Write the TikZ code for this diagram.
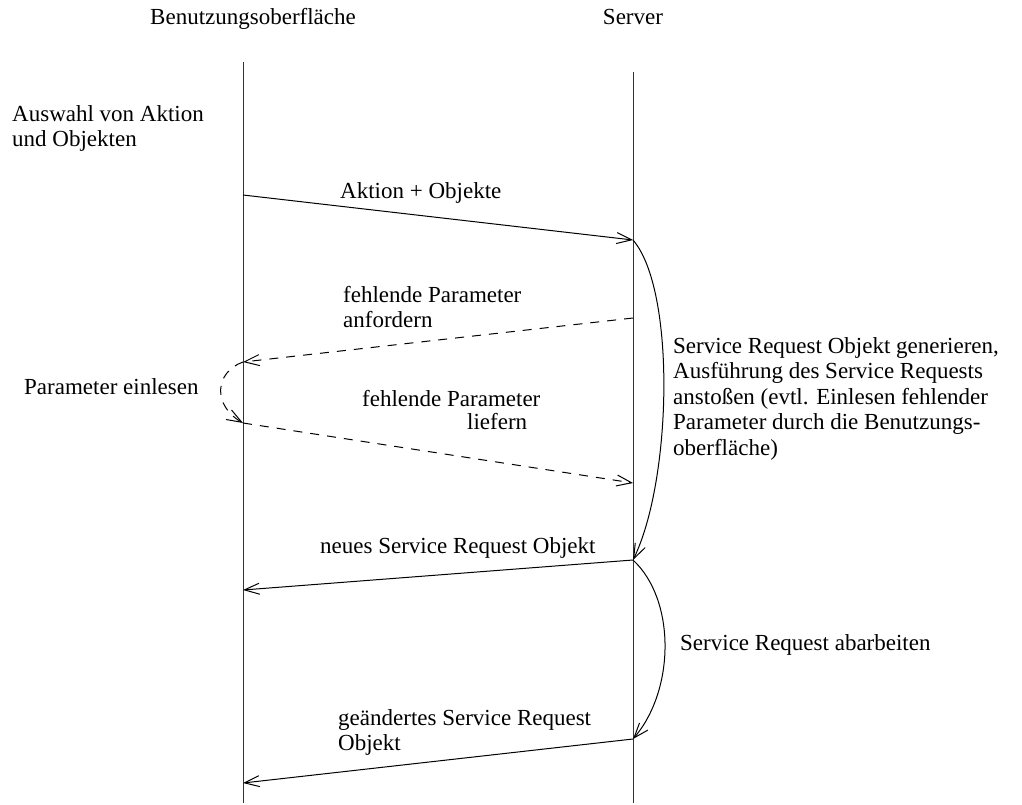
\documentclass[tikz,border=0pt]{standalone}
\usepackage{fontspec}
\setmainfont{Liberation Serif}
\usetikzlibrary{arrows.meta}
\begin{document}
\begin{tikzpicture}[x=1pt,y=-1pt,
  lifeline/.style={line width=1pt,draw=black!80},
  msg/.style={line width=1pt,-{Straight Barb[length=15pt,width=11pt,line width=1pt]}},
  reply/.style={msg,dash pattern=on 9pt off 8pt},
  lbl/.style={anchor=base west,inner sep=0pt,align=left,font=\fontsize{23}{25}\selectfont},
  ]
\useasboundingbox (0,0) rectangle (1022,805);

% lifelines
\coordinate (uiTop) at (243,62);
\coordinate (uiBot) at (243,803);
\coordinate (srvTop) at (633,72);
\coordinate (srvBot) at (633,803);
\draw[lifeline] (uiTop) -- (uiBot);
\draw[lifeline] (srvTop) -- (srvBot);

% headers
\node[lbl] (hUI) at (150,25) {Benutzungsoberfläche};
\node[lbl,anchor=base] (hSrv) at (633,25) {Server};

% message end points
\coordinate (a1) at (243,195);
\coordinate (b1) at (633,240);
\coordinate (b2) at (633,318);
\coordinate (a2) at (243,362);
\coordinate (a3) at (243,423);
\coordinate (b3) at (633,483);
\coordinate (b4) at (633,560);
\coordinate (a4) at (243,590);
\coordinate (b5) at (633,739);
\coordinate (a5) at (243,783);

% messages
\draw[msg] (a1) -- (b1);
\draw[reply] (b2) -- (a2);
\draw[reply] (a3) -- (b3);
\draw[msg] (b4) -- (a4);
\draw[msg] (b5) -- (a5);

% activity arcs
\draw[msg] (b1) .. controls (676,290) and (672,480) .. (b4);
\draw[msg] (b4) .. controls (676,600) and (675,690) .. (b5);
\draw[reply] (a2) .. controls (215,372) and (212,405) .. (a3);

% labels (multi-line nodes are placed by the baseline of their last line)
\node[lbl] (tSel) at (12,147) {Auswahl von Aktion\\und Objekten};
\node[lbl] (tAct) at (340,198) {Aktion + Objekte};
\node[lbl] (tReq) at (343,327) {fehlende Parameter\\anfordern};
\node[lbl] (tRead) at (24,394) {Parameter einlesen};
\node[lbl] (tDel1) at (362,406) {fehlende Parameter};
\node[lbl] (tDel2) at (467,429) {liefern};
\node[lbl,font=\fontsize{23}{25.5}\selectfont] (tGen) at (673,455) {Service Request Objekt generieren,\\Ausführung des Service Requests\\anstoßen (evtl. Einlesen fehlender\\Parameter durch die Benutzungs-\\oberfläche)};
\node[lbl] (tNew) at (320,553) {neues Service Request Objekt};
\node[lbl] (tProc) at (680,650) {Service Request abarbeiten};
\node[lbl] (tMod) at (338,750) {geändertes Service Request\\Objekt};
\end{tikzpicture}
\end{document}
